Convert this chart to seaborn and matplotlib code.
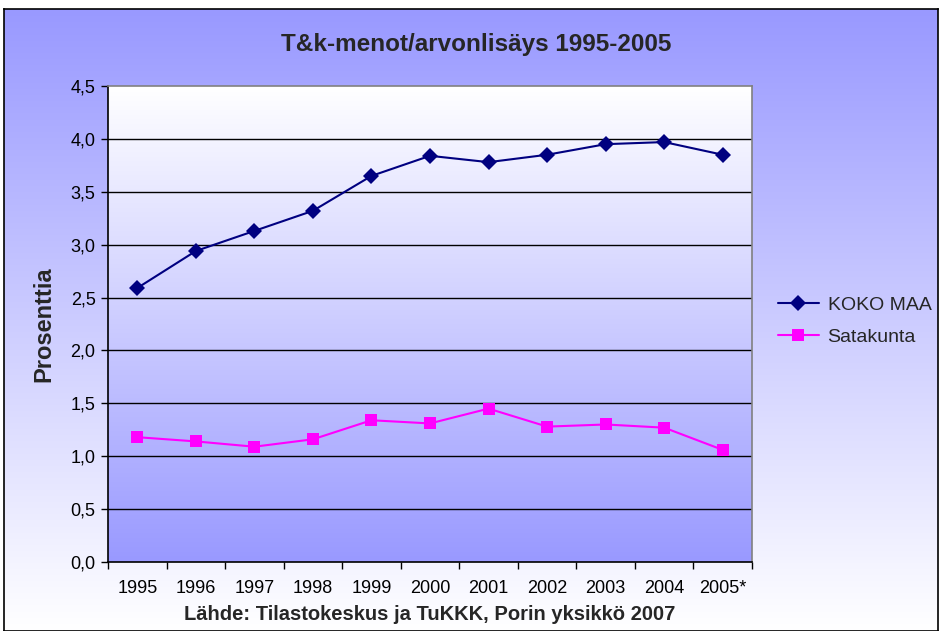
import numpy as np
import pandas as pd
import matplotlib
matplotlib.use("Agg")
import matplotlib.pyplot as plt
import seaborn as sns
from matplotlib.colors import LinearSegmentedColormap
from matplotlib.ticker import FuncFormatter, FixedLocator

years = ["1995", "1996", "1997", "1998", "1999", "2000", "2001", "2002", "2003", "2004", "2005*"]
koko_maa = [2.59, 2.94, 3.13, 3.32, 3.65, 3.84, 3.78, 3.85, 3.95, 3.97, 3.85]
satakunta = [1.18, 1.14, 1.09, 1.16, 1.34, 1.31, 1.45, 1.28, 1.30, 1.27, 1.06]
series_names = ["KOKO MAA", "Satakunta"]
title = "T&k-menot/arvonlisäys 1995-2005"
ylabel = "Prosenttia"
xlabel = "Lähde: Tilastokeskus ja TuKKK, Porin yksikkö 2007"

df = pd.DataFrame({
    "Vuosi": years * 2,
    "Arvo": koko_maa + satakunta,
    "Sarja": [series_names[0]] * len(years) + [series_names[1]] * len(years),
})

sns.set_theme(style="white")
plt.rcParams["font.family"] = ["Liberation Sans", "DejaVu Sans"]

W, H = 942, 631
fig = plt.figure(figsize=(W / 100, H / 100), dpi=100)
fig.patch.set_facecolor("white")

# outer chart area with gradient
bg = fig.add_axes([4 / W, 0, 934 / W, (H - 9) / H])
bg.set_zorder(-10)
cmap_out = LinearSegmentedColormap.from_list("o", ["#9999FF", "#FFFFFF"])
grad = np.linspace(0, 1, 256).reshape(-1, 1)
bg.imshow(grad, aspect="auto", cmap=cmap_out, extent=[0, 1, 0, 1], origin="upper")
bg.set_xlim(0, 1)
bg.set_ylim(0, 1)
bg.set_xticks([])
bg.set_yticks([])
for s in bg.spines.values():
    s.set_color("black")
    s.set_linewidth(1.2)

ax = fig.add_axes([108 / W, (H - 562) / H, 644 / W, 476 / H])
ax.patch.set_alpha(0)
cmap_in = LinearSegmentedColormap.from_list("i", ["#FFFFFF", "#9999FF"])
ax.imshow(grad, aspect="auto", cmap=cmap_in, extent=[-0.5, 10.5, 0, 4.5],
          origin="upper", zorder=0)

sns.lineplot(data=df, x="Vuosi", y="Arvo", hue="Sarja", style="Sarja",
             palette={"KOKO MAA": "#000080", "Satakunta": "#FF00FF"},
             markers={"KOKO MAA": "D", "Satakunta": "s"}, dashes=False,
             markersize=8, linewidth=1.5, markeredgewidth=0, ax=ax, zorder=5)

ax.set_xlim(-0.5, 10.5)
ax.set_ylim(0, 4.5)
ax.set_yticks(np.arange(0, 4.51, 0.5))
ax.yaxis.set_major_formatter(FuncFormatter(lambda v, p: f"{v:.1f}".replace(".", ",")))
for yv in np.arange(0.5, 4.01, 0.5):
    ax.axhline(yv, color="black", linewidth=1.0, zorder=1)

ax.set_xticks(range(len(years)))
ax.set_xticklabels(years)
ax.xaxis.set_minor_locator(FixedLocator(np.arange(-0.5, 10.6, 1)))
ax.tick_params(axis="x", which="major", length=0, pad=13, labelsize=13, colors="black")
ax.tick_params(axis="x", which="minor", length=5, width=1, color="black", direction="out")
ax.tick_params(axis="y", which="major", length=5, width=1, color="black", direction="out",
               labelsize=13, pad=4, colors="black")
ax.tick_params(bottom=True, left=True, which="both")

for side in ["left", "bottom"]:
    ax.spines[side].set_color("black")
    ax.spines[side].set_linewidth(1.2)
for side in ["top", "right"]:
    ax.spines[side].set_color("#808080")
    ax.spines[side].set_linewidth(1.2)

ax.set_xlabel(xlabel, fontsize=14.5, fontweight="bold", labelpad=6)
ax.set_ylabel(ylabel, fontsize=17, fontweight="bold", labelpad=11)
fig.text(476 / W, 1 - 45 / H, title, ha="center", va="center",
         fontsize=17.5, fontweight="bold")

leg = ax.legend(loc="center left", bbox_to_anchor=(778 / W, 1 - 321 / H),
                bbox_transform=fig.transFigure, frameon=False, fontsize=14,
                handlelength=2.1, handletextpad=0.45, labelspacing=0.75,
                borderpad=0, borderaxespad=0, title=None)

fig.savefig("out.png", dpi=100)
